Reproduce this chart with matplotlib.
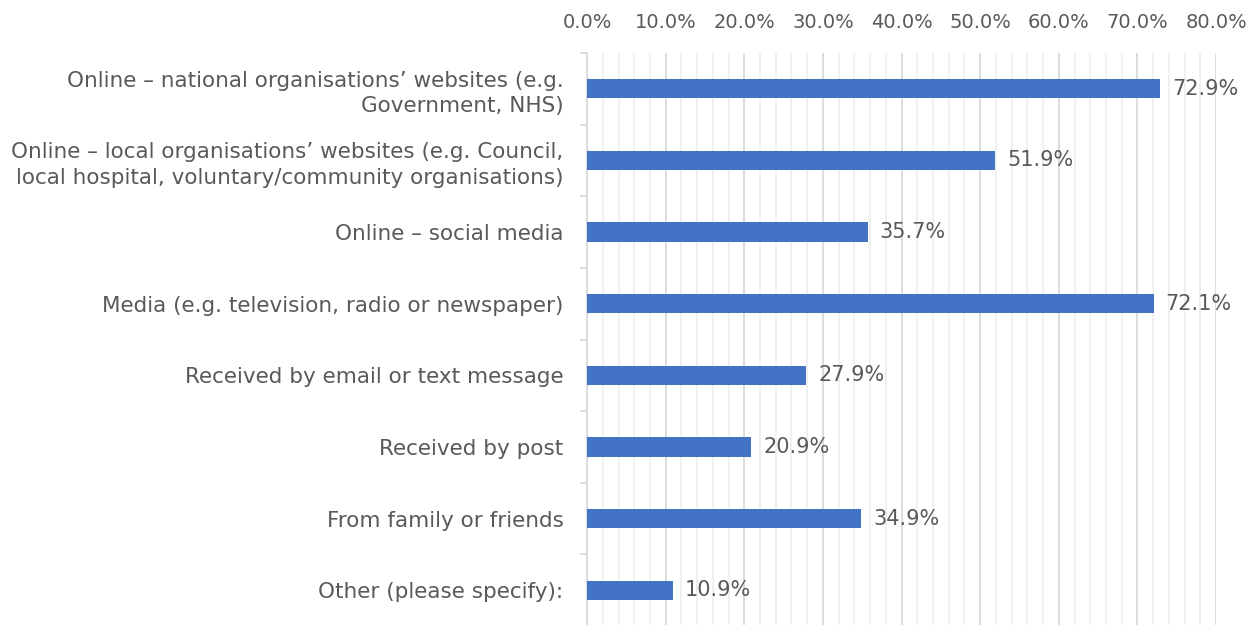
import numpy as np
import matplotlib.pyplot as plt
from matplotlib.ticker import MultipleLocator, FuncFormatter

categories = [
    "Online \u2013 national organisations\u2019 websites (e.g.\nGovernment, NHS)",
    "Online \u2013 local organisations\u2019 websites (e.g. Council,\nlocal hospital, voluntary/community organisations)",
    "Online \u2013 social media",
    "Media (e.g. television, radio or newspaper)",
    "Received by email or text message",
    "Received by post",
    "From family or friends",
    "Other (please specify):",
]
values = [72.9, 51.9, 35.7, 72.1, 27.9, 20.9, 34.9, 10.9]

text_col = "#595959"
bar_col = "#4472C4"

plt.rcParams["font.family"] = ["DejaVu Sans"]

fig = plt.figure(figsize=(12.56, 6.25), dpi=100)
ax = fig.add_axes([0.4674, -0.0016, 0.5008, 0.9168])

y = np.arange(len(categories))
ax.barh(y, values, height=0.27, color=bar_col, zorder=3)
for yi, v in zip(y, values):
    ax.text(v + 1.5, yi, f"{v:.1f}%", va="center", ha="left",
            fontsize=15, color=text_col, zorder=4)

ax.set_ylim(len(categories) - 0.5, -0.5)
ax.set_xlim(0, 80)

ax.xaxis.tick_top()
ax.xaxis.set_major_locator(MultipleLocator(10))
ax.xaxis.set_minor_locator(MultipleLocator(2))
ax.xaxis.set_major_formatter(FuncFormatter(lambda x, p: f"{x:.1f}%"))
ax.tick_params(axis="x", which="both", length=0, labelsize=14,
               labelcolor=text_col, pad=15)
ax.grid(axis="x", which="major", color="#D9D9D9", linewidth=1.3, zorder=0)
ax.grid(axis="x", which="minor", color="#EFEFEF", linewidth=1.3, zorder=0)

ax.set_yticks(y)
ax.set_yticklabels(categories, fontsize=15.5, color=text_col,
                   multialignment="right", linespacing=1.35)
ax.set_yticks(np.arange(-0.5, len(categories), 1), minor=True)
ax.tick_params(axis="y", which="major", length=0, pad=17)
ax.tick_params(axis="y", which="minor", length=5, color="#D9D9D9", width=1.3)

for s in ["top", "right", "bottom"]:
    ax.spines[s].set_visible(False)
ax.spines["left"].set_color("#D9D9D9")
ax.spines["left"].set_linewidth(1.3)

fig.savefig("out.png", dpi=100)
